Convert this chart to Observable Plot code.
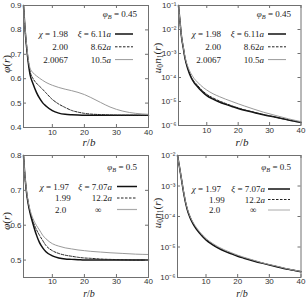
<!DOCTYPE html>
<html><head><meta charset="utf-8">
<script src="https://cdn.jsdelivr.net/npm/d3@7"></script>
<script src="https://cdn.jsdelivr.net/npm/@observablehq/plot@0.6"></script>
<style>
body{margin:0;background:#fff;}
#fig{position:relative;width:306px;height:298px;overflow:hidden;background:#fff;}
#fig svg{position:absolute;overflow:visible;}
</style></head><body><div id="fig"></div>
<script>
// ---------- data ----------
const rGrid = [1,1.5,2,2.5,3,4,5,6,7,8,10,12,14,16,18,20,22,25,28,32,36,40];
const xTicks = [10,20,30,40];

// phi_B = 0.45 : phi(r)
const phi45_chi198 = [0.9,0.8,0.725,0.665,0.62,0.578,0.545,0.52,0.501,0.488,0.469,0.459,0.454,0.452,0.451,0.4505,0.45,0.45,0.45,0.45,0.45,0.45];
const phi45_chi200 = [0.9,0.8,0.728,0.672,0.633,0.6,0.582,0.569,0.556,0.542,0.515,0.496,0.482,0.47,0.463,0.458,0.455,0.453,0.451,0.45,0.45,0.45];
const phi45_chi20067 = [0.9,0.805,0.735,0.68,0.645,0.624,0.612,0.602,0.593,0.585,0.573,0.564,0.557,0.551,0.544,0.535,0.523,0.503,0.484,0.467,0.458,0.454];
// phi_B = 0.45 : u0 n1(r)
const n45_chi198 = [1e-1,2e-2,4.5e-3,1.8e-3,7e-4,2.2e-4,1e-4,6e-5,4.2e-5,3e-5,1.75e-5,1.25e-5,9.5e-6,7.6e-6,6.2e-6,5.1e-6,4.3e-6,3.5e-6,2.8e-6,2.2e-6,1.7e-6,1.35e-6];
const n45_chi200 = [1e-1,2e-2,4.6e-3,1.85e-3,7.3e-4,2.4e-4,1.1e-4,6.8e-5,4.8e-5,3.4e-5,2e-5,1.4e-5,1.05e-5,8.3e-6,6.6e-6,5.4e-6,4.5e-6,3.6e-6,2.9e-6,2.2e-6,1.7e-6,1.35e-6];
const n45_chi20067 = [1e-1,2.1e-2,4.8e-3,2e-3,8.2e-4,2.8e-4,1.45e-4,9e-5,6.5e-5,4.8e-5,3e-5,2.1e-5,1.6e-5,1.25e-5,1e-5,8e-6,6.5e-6,4.8e-6,3.6e-6,2.6e-6,1.9e-6,1.45e-6];
// phi_B = 0.5 : phi(r)
const phi50_chi197 = [0.8,0.735,0.69,0.66,0.637,0.603,0.573,0.55,0.535,0.524,0.512,0.506,0.503,0.502,0.501,0.5,0.5,0.5,0.5,0.5,0.5,0.5];
const phi50_chi199 = [0.8,0.735,0.692,0.663,0.641,0.61,0.588,0.571,0.556,0.542,0.527,0.519,0.514,0.511,0.508,0.506,0.505,0.503,0.502,0.501,0.5,0.5];
const phi50_chi20 = [0.8,0.737,0.695,0.667,0.646,0.618,0.6,0.586,0.571,0.561,0.547,0.54,0.535,0.532,0.529,0.527,0.525,0.523,0.521,0.519,0.517,0.516];
// phi_B = 0.5 : u0 n1(r)
const n50_chi197 = [1e-2,5e-3,2.4e-3,1.15e-3,5.5e-4,1.8e-4,9e-5,5.5e-5,3.8e-5,2.8e-5,1.7e-5,1.2e-5,9e-6,7.2e-6,6e-6,5e-6,4.3e-6,3.5e-6,2.9e-6,2.3e-6,1.85e-6,1.55e-6];
const n50_chi199 = [1e-2,5e-3,2.45e-3,1.18e-3,5.7e-4,1.88e-4,9.4e-5,5.8e-5,4e-5,2.95e-5,1.78e-5,1.25e-5,9.4e-6,7.5e-6,6.2e-6,5.2e-6,4.4e-6,3.6e-6,2.95e-6,2.35e-6,1.87e-6,1.56e-6];
const n50_chi20 = [1e-2,5.1e-3,2.5e-3,1.22e-3,6e-4,2e-4,1e-4,6.2e-5,4.3e-5,3.15e-5,1.9e-5,1.33e-5,1e-5,7.9e-6,6.5e-6,5.4e-6,4.6e-6,3.7e-6,3e-6,2.4e-6,1.9e-6,1.58e-6];

const yTicksPhi45 = [0.4,0.5,0.6,0.7,0.8,0.9];
const yTicksPhi50 = [0.5,0.6,0.7,0.8];
const yTicksN45 = [1e-6,1e-5,1e-4,1e-3,1e-2,1e-1];
const yTicksN50 = [1e-6,1e-5,1e-4,1e-3,1e-2];

// ---------- styles ----------
const S_SOLID = {stroke:"#111", strokeWidth:1.5};
const S_DASH = {stroke:"#222", strokeWidth:1, strokeDasharray:"2.5,1.5"};
const S_GRAY = {stroke:"#9a9a9a", strokeWidth:1};
const FRAME = "#707070";
const SERIF = "'Liberation Serif', 'DejaVu Serif', serif";
const SANS = "'Liberation Sans', Arial, sans-serif";

const sup = {"-":"\u207B","0":"\u2070","1":"\u00B9","2":"\u00B2","3":"\u00B3","4":"\u2074","5":"\u2075","6":"\u2076"};
const logFmt = d => "10" + String(Math.round(Math.log10(d))).split("").map(c => sup[c]).join("");

const fig = document.getElementById("fig");

function panel(cfg) {
  const {left, top, w, h, m, yType, yDomain, yTicks, yFmt, series, xPad = 1.5} = cfg;
  const innerH = h - m.top - m.bottom, innerW = w - m.left - m.right;
  const marks = [];
  series.forEach(s => {
    const rows = rGrid.map((r, i) => ({r, v: s.values[i]}));
    marks.push(Plot.line(rows, {x:"r", y:"v", curve:"monotone-x", ...s.style}));
  });
  marks.push(Plot.frame({stroke: FRAME, strokeWidth: 1}));
  const tk = {stroke: FRAME, strokeWidth: 1};
  marks.push(Plot.tickX(xTicks, {x: d => d, insetTop: innerH - 3, ...tk}));
  marks.push(Plot.tickX(xTicks, {x: d => d, insetBottom: innerH - 3, ...tk}));
  marks.push(Plot.tickY(yTicks, {y: d => d, insetRight: innerW - 3, ...tk}));
  marks.push(Plot.tickY(yTicks, {y: d => d, insetLeft: innerW - 3, ...tk}));
  marks.push(Plot.axisX(xTicks, {tickSize: 0, tickPadding: xPad, label: null, fill: "#333"}));
  marks.push(Plot.axisY(yTicks, {tickSize: 0, tickPadding: 2, tickFormat: yFmt, label: null, fill: "#333"}));
  const svg = Plot.plot({
    width: w, height: h,
    marginLeft: m.left, marginRight: m.right, marginTop: m.top, marginBottom: m.bottom,
    style: {fontSize: "8px", fontFamily: SANS, background: "transparent", color: "#333"},
    x: {domain: [1, 40], type: "linear"},
    y: {domain: yDomain, type: yType},
    marks
  });
  svg.style.left = left + "px";
  svg.style.top = top + "px";
  fig.appendChild(svg);
  return d3.select(svg);
}

// text with italic / subscript segments
function txt(sel, x, y, segs, {anchor = "start", size = 9, rotate = 0, family = SERIF} = {}) {
  const t = sel.append("text")
    .attr("transform", `translate(${x},${y})` + (rotate ? ` rotate(${rotate})` : ""))
    .attr("text-anchor", anchor)
    .attr("font-family", family)
    .attr("font-size", size)
    .attr("fill", "#1a1a1a");
  segs.forEach(s => {
    if (typeof s === "string") s = {t: s};
    const sp = t.append("tspan").text(s.t);
    if (s.i) sp.attr("font-style", "italic");
    if (s.sub) sp.attr("font-size", size * 0.7).attr("dy", size * 0.25);
    if (s.back) sp.attr("dy", -size * 0.25);
  });
  return t;
}
function legLine(sel, x1, x2, y, style) {
  const l = sel.append("line").attr("x1", x1).attr("x2", x2).attr("y1", y).attr("y2", y)
    .attr("stroke", style.stroke).attr("stroke-width", style.strokeWidth);
  if (style.strokeDasharray) l.attr("stroke-dasharray", style.strokeDasharray);
}
function axisLabels(sel, xlab, ylabSegs, ylx, yly, xs = 11) {
  txt(sel, xlab[0], xlab[1], [{t:"r", i:true}, "/", {t:"b", i:true}], {anchor:"middle", size:xs});
  txt(sel, ylx, yly, ylabSegs, {anchor:"middle", size:11, rotate:-90});
}
const phiLab = [{t:"\u03C6", i:true}, "(", {t:"r", i:true}, ")"];
const nLab = [{t:"u", i:true}, {t:"0", sub:true}, {t:"n", i:true, back:true}, {t:"1", sub:true}, {t:"(", back:true}, {t:"r", i:true}, ")"];

// ---------- panel A (top-left) ----------
const pA = panel({left:0, top:0, w:153, h:149, m:{left:23, right:5, top:5, bottom:22},
  yType:"linear", yDomain:[0.4, 0.9], yTicks: yTicksPhi45, yFmt: d3.format(".1f"),
  series:[{values:phi45_chi198, style:S_SOLID},{values:phi45_chi200, style:S_DASH},{values:phi45_chi20067, style:S_GRAY}]});
axisLabels(pA, [89, 146], phiLab, 10, 64);
txt(pA, 137, 17, [{t:"\u03C6", i:true}, {t:"B", i:true, sub:true}, {t:" = 0.45", back:true}], {anchor:"end"});
[[[{t:"\u03C7", i:true}, " = 1.98"],[{t:"\u03BE", i:true}, " = 6.11", {t:"a", i:true}],S_SOLID],
 [["2.00"],["8.62",{t:"a",i:true}],S_DASH],
 [["2.0067"],["10.5",{t:"a",i:true}],S_GRAY]].forEach((row, k) => {
  const yc = 34 + k * 12.8;
  txt(pA, 68, yc + 3, row[0], {anchor:"end"});
  txt(pA, 111, yc + 3, row[1], {anchor:"end"});
  legLine(pA, 115, 133, yc, row[2]);
});

// ---------- panel B (top-right) ----------
const pB = panel({left:153, top:0, w:153, h:149, m:{left:25, right:5.5, top:5, bottom:24},
  yType:"log", yDomain:[1e-6, 1e-1], yTicks: yTicksN45, yFmt: logFmt,
  series:[{values:n45_chi198, style:S_SOLID},{values:n45_chi200, style:S_DASH},{values:n45_chi20067, style:S_GRAY}]});
axisLabels(pB, [89, 146], nLab, 7.5, 58);
txt(pB, 138, 17, [{t:"\u03C6", i:true}, {t:"B", i:true, sub:true}, {t:" = 0.45", back:true}], {anchor:"end"});
[[[{t:"\u03C7", i:true}, " = 1.98"],[{t:"\u03BE", i:true}, " = 6.11", {t:"a", i:true}],S_SOLID],
 [["2.00"],["8.62",{t:"a",i:true}],S_DASH],
 [["2.0067"],["10.5",{t:"a",i:true}],S_GRAY]].forEach((row, k) => {
  const yc = 34 + k * 12.8;
  txt(pB, 68, yc + 3, row[0], {anchor:"end"});
  txt(pB, 111, yc + 3, row[1], {anchor:"end"});
  legLine(pB, 115, 133, yc, row[2]);
});

// ---------- panel C (bottom-left) ----------
const pC = panel({left:0, top:149, w:153, h:149, m:{left:23, right:5, top:6, bottom:21}, xPad:0.5,
  yType:"linear", yDomain:[0.45, 0.8], yTicks: yTicksPhi50, yFmt: d3.format(".1f"),
  series:[{values:phi50_chi197, style:S_SOLID},{values:phi50_chi199, style:S_DASH},{values:phi50_chi20, style:S_GRAY}]});
axisLabels(pC, [89, 148], phiLab, 10, 72, 10);
txt(pC, 137, 21, [{t:"\u03C6", i:true}, {t:"B", i:true, sub:true}, {t:" = 0.5", back:true}], {anchor:"end"});
const legC = [[{t:"\u03C7", i:true}, " = 1.97"], ["1.99"], ["2.0"]];
const legC2 = [[{t:"\u03BE", i:true}, " = 7.07", {t:"a", i:true}], ["12.2", {t:"a", i:true}], ["\u221E"]];
[S_SOLID, S_DASH, {stroke:"#aaa", strokeWidth:1.2}].forEach((st, k) => {
  const yc = 37.5 + k * 11.5;
  if (k === 0) txt(pC, 69, yc + 3, legC[k], {anchor:"end"});
  else txt(pC, 55, yc + 3, legC[k]);
  if (k === 2) txt(pC, 95, yc + 3, legC2[k]);
  else txt(pC, 112, yc + 3, legC2[k], {anchor:"end"});
  legLine(pC, 117, 137, yc, st);
});

// ---------- panel D (bottom-right) ----------
const pD = panel({left:153, top:149, w:153, h:149, m:{left:24, right:5.5, top:6, bottom:21}, xPad:0.5,
  yType:"log", yDomain:[1e-6, 1e-2], yTicks: yTicksN50, yFmt: logFmt,
  series:[{values:n50_chi197, style:S_SOLID},{values:n50_chi199, style:S_DASH},{values:n50_chi20, style:S_GRAY}]});
axisLabels(pD, [89, 148], nLab, 7.5, 64, 10);
txt(pD, 138, 21, [{t:"\u03C6", i:true}, {t:"B", i:true, sub:true}, {t:" = 0.5", back:true}], {anchor:"end"});
const legD = [[{t:"\u03C7", i:true}, " = 1.97"], ["1.99"], ["2.0"]];
const legD2 = [[{t:"\u03BE", i:true}, " = 7.07", {t:"a", i:true}], ["12.2", {t:"a", i:true}], ["\u221E"]];
[S_SOLID, S_DASH, {stroke:"#aaa", strokeWidth:1}].forEach((st, k) => {
  const yc = 40 + k * 10.5;
  if (k === 0) txt(pD, 68, yc + 3, legD[k], {anchor:"end"});
  else txt(pD, 56, yc + 3, legD[k]);
  if (k === 2) txt(pD, 97, yc + 3, legD2[k]);
  else txt(pD, 112, yc + 3, legD2[k], {anchor:"end"});
  legLine(pD, 115, 137, yc, st);
});
</script></body></html>
